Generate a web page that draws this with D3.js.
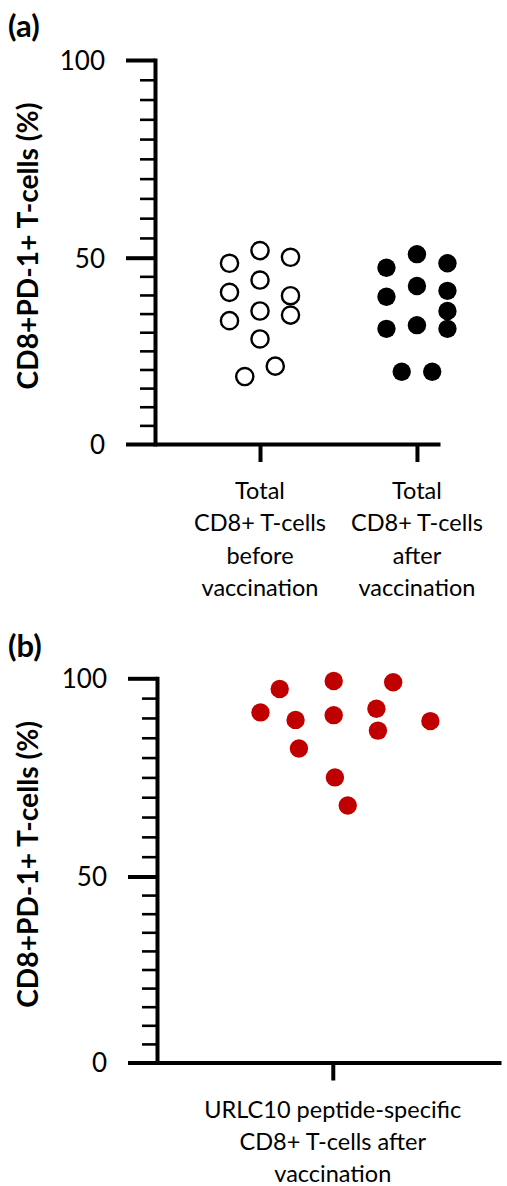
<!DOCTYPE html>
<html>
<head>
<meta charset="utf-8">
<script src="https://cdn.jsdelivr.net/npm/d3@7"></script>
<style>
  html, body { margin: 0; padding: 0; background: #fff; }
  svg { display: block; }
  text { font-family: Lato, "Open Sans", sans-serif; fill: #000; }
</style>
</head>
<body>
<svg id="chart" width="507" height="1186"></svg>
<script>
// ---------- data ----------
const panelATitle = "(a)";
const panelBTitle = "(b)";
const yAxisTitle = "CD8+PD-1+ T-cells (%)";
const yMajorTicks = [0, 50, 100];
const yMinorTicks = [5, 10, 15, 20, 25, 30, 35, 40, 45, 55, 60, 65, 70, 75, 80, 85, 90, 95];

const panelACategories = ["before", "after"];
const panelACategoryLabels = [
  ["Total", "CD8+ T-cells", "before", "vaccination"],
  ["Total", "CD8+ T-cells", "after", "vaccination"]
];
const beforeValues = [48.5, 51.8, 50.1, 44.0, 40.7, 39.8, 35.7, 33.1, 34.6, 28.2, 20.9, 18.1];
const beforeJitter = [-1, 0, 1, 0, -1, 1, 0, -1, 1, 0, 0.5, -0.5];
const afterValues = [47.3, 50.9, 48.5, 42.4, 39.5, 41.1, 35.7, 30.9, 31.9, 30.9, 19.4, 19.4];
const afterJitter = [-1, 0, 1, 0, -1, 1, 1, -1, 0, 1, -0.5, 0.5];

const panelBCategories = ["urlc10"];
const panelBCategoryLabels = [["URLC10 peptide-specific", "CD8+ T-cells after", "vaccination"]];
const urlc10Values = [97.3, 99.3, 99.0, 91.4, 89.5, 90.7, 92.3, 89.2, 86.8, 82.3, 75.0, 67.9];
const urlc10Jitter = [-1.74, 0.03, 1.98, -2.37, -1.22, 0.03, 1.43, 3.2, 1.48, -1.11, 0.07, 0.49];

// ---------- drawing ----------
const svg = d3.select("#chart");
svg.append("rect").attr("width", 507).attr("height", 1186).attr("fill", "#fff");

const jitter = d3.scaleLinear().domain([-1, 1]).range([-30.5, 30.5]);

function drawPanel(cfg) {
  const g = svg.append("g");
  const y = d3.scaleLinear().domain([0, 50, 100]).range([cfg.y0, cfg.y50, cfg.y100]);
  const x = d3.scalePoint().domain(cfg.categories)
    .range([cfg.axisX, cfg.xRight]).padding(cfg.pad).align(cfg.align);

  // minor ticks
  const minor = g.append("g").attr("transform", `translate(${cfg.axisX},0)`)
    .call(d3.axisLeft(y).tickValues(yMinorTicks).tickSize(15).tickFormat(""));
  minor.select(".domain").remove();
  minor.selectAll(".tick line").attr("stroke", "#000").attr("stroke-width", 2.6);

  // major ticks + labels + domain
  const major = g.append("g").attr("transform", `translate(${cfg.axisX},0)`)
    .call(d3.axisLeft(y).tickValues(yMajorTicks).tickSize(29).tickSizeOuter(0).tickPadding(21));
  major.select(".domain").attr("stroke", "#000").attr("stroke-width", 4)
    .attr("stroke-linecap", "square");
  major.selectAll(".tick line").attr("stroke", "#000").attr("stroke-width", 4);
  major.selectAll(".tick text").attr("font-size", 26).attr("font-family", "Lato")
    .attr("fill", "#000").attr("dy", "0.36em");

  // x axis
  const xa = g.append("g").attr("transform", `translate(0,${cfg.y0})`)
    .call(d3.axisBottom(x).tickSize(18).tickSizeOuter(0).tickFormat(""));
  xa.select(".domain").attr("stroke", "#000").attr("stroke-width", 4);
  xa.selectAll(".tick line").attr("stroke", "#000").attr("stroke-width", 4);

  // category labels
  cfg.categories.forEach((c, i) => {
    const t = g.append("text").attr("text-anchor", "middle").attr("font-size", 23.5)
      .attr("x", x(c)).attr("y", cfg.y0 + 55);
    cfg.labels[i].forEach((line, j) => {
      t.append("tspan").attr("x", x(c)).attr("dy", j === 0 ? 0 : 32.4).text(line);
    });
  });

  // y title
  const yt = g.append("text").attr("text-anchor", "middle").attr("font-weight", "bold")
    .attr("font-size", 24)
    .attr("transform", `translate(38,${(cfg.y0 + cfg.y100) / 2 - 6}) rotate(-90)`)
    .text(yAxisTitle);
  const len = yt.node().getComputedTextLength();
  yt.attr("font-size", 24 * 287 / len);

  // panel letter
  g.append("text").attr("x", 8).attr("y", cfg.letterY).attr("font-weight", "bold")
    .attr("font-size", 31).text(cfg.letter);

  // points
  cfg.series.forEach(s => {
    g.append("g").selectAll("circle").data(s.values).join("circle")
      .attr("cx", (d, i) => x(s.cat) + jitter(s.jitter[i]))
      .attr("cy", d => y(d))
      .attr("r", s.open ? 8.6 : 9.2)
      .attr("fill", s.open ? "#fff" : s.color)
      .attr("stroke", s.open ? "#000" : "none")
      .attr("stroke-width", s.open ? 2.4 : 0);
  });
}

drawPanel({
  letter: panelATitle, letterY: 37,
  axisX: 155, xRight: 440, pad: 0.408, align: 0.82,
  y0: 444, y50: 257.7, y100: 60,
  categories: panelACategories, labels: panelACategoryLabels,
  series: [
    { cat: "before", values: beforeValues, jitter: beforeJitter, open: true, color: "#000" },
    { cat: "after", values: afterValues, jitter: afterJitter, open: false, color: "#000" }
  ]
});

drawPanel({
  letter: panelBTitle, letterY: 657,
  axisX: 157, xRight: 501, pad: 0.5, align: 0.511,
  y0: 1062.5, y50: 876.5, y100: 678.3,
  categories: panelBCategories, labels: panelBCategoryLabels,
  series: [
    { cat: "urlc10", values: urlc10Values, jitter: urlc10Jitter, open: false, color: "#C00000" }
  ]
});
</script>
</body>
</html>
